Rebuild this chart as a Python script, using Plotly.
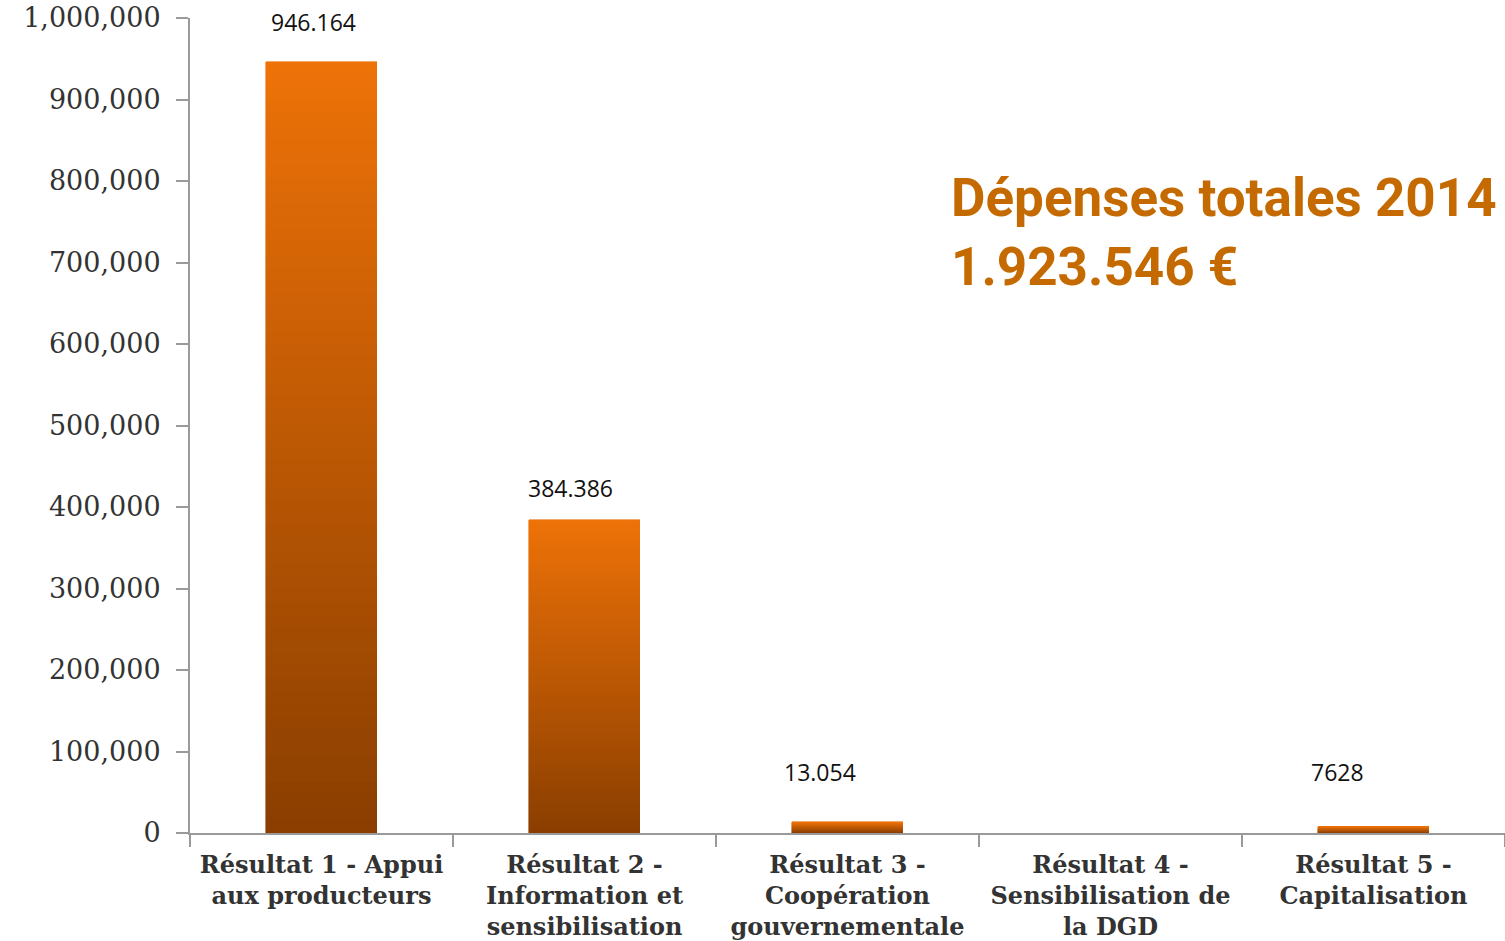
import plotly.graph_objects as go

categories = [
    "Résultat 1 - Appui<br>aux producteurs",
    "Résultat 2 -<br>Information et<br>sensibilisation",
    "Résultat 3 -<br>Coopération<br>gouvernementale",
    "Résultat 4 -<br>Sensibilisation de<br>la DGD",
    "Résultat 5 -<br>Capitalisation",
]
values = [946164, 384386, 13054, 0, 7628]
value_labels = ["946.164", "384.386", "13.054", "", "7628"]
label_yshift = [40, 32, 50, 0, 55]
label_xshift = [-8, -14, -28, 0, -36]
title_lines = ["Dépenses totales 2014", "1.923.546 €"]

top_rgb = (238, 114, 8)
bot_rgb = (138, 62, 0)
N = 60

fig = go.Figure()
for i in range(N):
    t = (i + 0.5) / N
    c = tuple(int(round(b + (tp - b) * t)) for b, tp in zip(bot_rgb, top_rgb))
    col = "rgb(%d,%d,%d)" % c
    fig.add_trace(go.Bar(
        x=categories,
        y=[(v / N) if v > 0 else None for v in values],
        marker=dict(color=col, line=dict(width=0.6, color=col)),
        width=0.425,
        showlegend=False,
        hoverinfo="skip",
    ))

for cat, v, lab, ys, xs in zip(categories, values, value_labels, label_yshift, label_xshift):
    if lab:
        fig.add_annotation(x=cat, y=v, text=lab, showarrow=False, yanchor="middle",
                           yshift=ys, xshift=xs, font=dict(family="Open Sans", size=23, color="#111"))

fig.add_annotation(xref="paper", yref="paper", x=0.5775, y=0.82, xanchor="left", yanchor="top",
                   text="<br>".join(title_lines), showarrow=False, align="left",
                   font=dict(family="Roboto", size=53, color="#C56A00", weight="bold"))

fig.update_layout(
    barmode="stack",
    bargap=0,
    width=1505, height=941,
    margin=dict(l=190, r=0, t=18, b=108),
    plot_bgcolor="white", paper_bgcolor="white",
)
fig.update_xaxes(
    type="category", range=[-0.5, 4.5], showline=True, linecolor="#9a9a9a", linewidth=2,
    ticks="outside", tickson="boundaries", ticklen=12, tickcolor="#9a9a9a", tickwidth=2,
    tickfont=dict(family="DejaVu Serif", size=24, color="#333", weight="bold"),
    showgrid=False, ticklabelstandoff=9,
)
fig.update_yaxes(
    range=[0, 1000000], tickvals=[0, 100000, 200000, 300000, 400000, 500000, 600000, 700000, 800000, 900000, 1000000],
    tickformat=",d", showline=True, linecolor="#9a9a9a", linewidth=2,
    ticks="outside", ticklen=12, tickcolor="#9a9a9a", tickwidth=2,
    tickfont=dict(family="DejaVu Serif", size=27, color="#333"),
    showgrid=False, zeroline=False, ticklabelstandoff=10,
)
fig.write_html("out.html")
